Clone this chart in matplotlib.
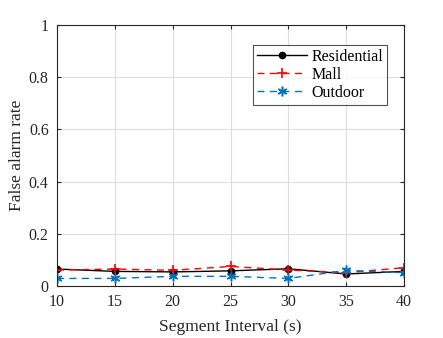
import matplotlib
matplotlib.use("Agg")
import matplotlib.pyplot as plt

x = [10, 15, 20, 25, 30, 35, 40]
residential = [0.065, 0.056, 0.054, 0.058, 0.066, 0.046, 0.056]
mall = [0.061, 0.065, 0.060, 0.075, 0.061, 0.051, 0.070]
outdoor = [0.029, 0.029, 0.037, 0.037, 0.029, 0.060, 0.051]
xticks = [10, 15, 20, 25, 30, 35, 40]
yticks = [0, 0.2, 0.4, 0.6, 0.8, 1]
ytick_labels = ["0", "0.2", "0.4", "0.6", "0.8", "1"]

plt.rcParams['font.family'] = ['Liberation Serif', 'DejaVu Serif']

fig = plt.figure(figsize=(4.43, 3.38), dpi=100)
ax = fig.add_axes([57/443, 1-286/338, (404-57)/443, (286-25)/338])

ax.plot(x, residential, color='black', linestyle='-', marker='o', markersize=4.5, linewidth=1, label='Residential')
ax.plot(x, mall, color='red', linestyle=(0, (5, 4)), marker='+', markersize=7, markeredgewidth=1.2, linewidth=1, label='Mall')
ax.plot(x, outdoor, color='#0072BD', linestyle=(0, (5, 4)), marker=(6, 2, 0), markersize=7, markeredgewidth=1.1, linewidth=1, label='Outdoor')

ax.set_xlim(10, 40)
ax.set_ylim(0, 1)
ax.set_xticks(xticks)
ax.set_yticks(yticks)
ax.set_yticklabels(ytick_labels)
ax.grid(True, color='#dddddd', linewidth=0.8)
ax.set_axisbelow(True)
ax.tick_params(direction='in', top=True, right=True, labelsize=11.5, colors='#262626', length=3)
ax.tick_params(axis='x', pad=6)
ax.tick_params(axis='y', pad=6)
for s in ax.spines.values():
    s.set_color('#262626')
    s.set_linewidth(0.8)
ax.set_xlabel('Segment Interval (s)', fontsize=12.5, color='#262626', labelpad=6)
ax.set_ylabel('False alarm rate', fontsize=12.5, color='#262626', labelpad=3)

leg = ax.legend(loc='upper left', bbox_to_anchor=((253-57)/347, (286-45)/261), fontsize=11.5, frameon=True,
                fancybox=False, edgecolor='#262626', handlelength=3.1, borderpad=0.25,
                labelspacing=0.12, handletextpad=0.3, borderaxespad=0)
leg.get_frame().set_linewidth(0.8)

fig.savefig('out.png', dpi=100)
